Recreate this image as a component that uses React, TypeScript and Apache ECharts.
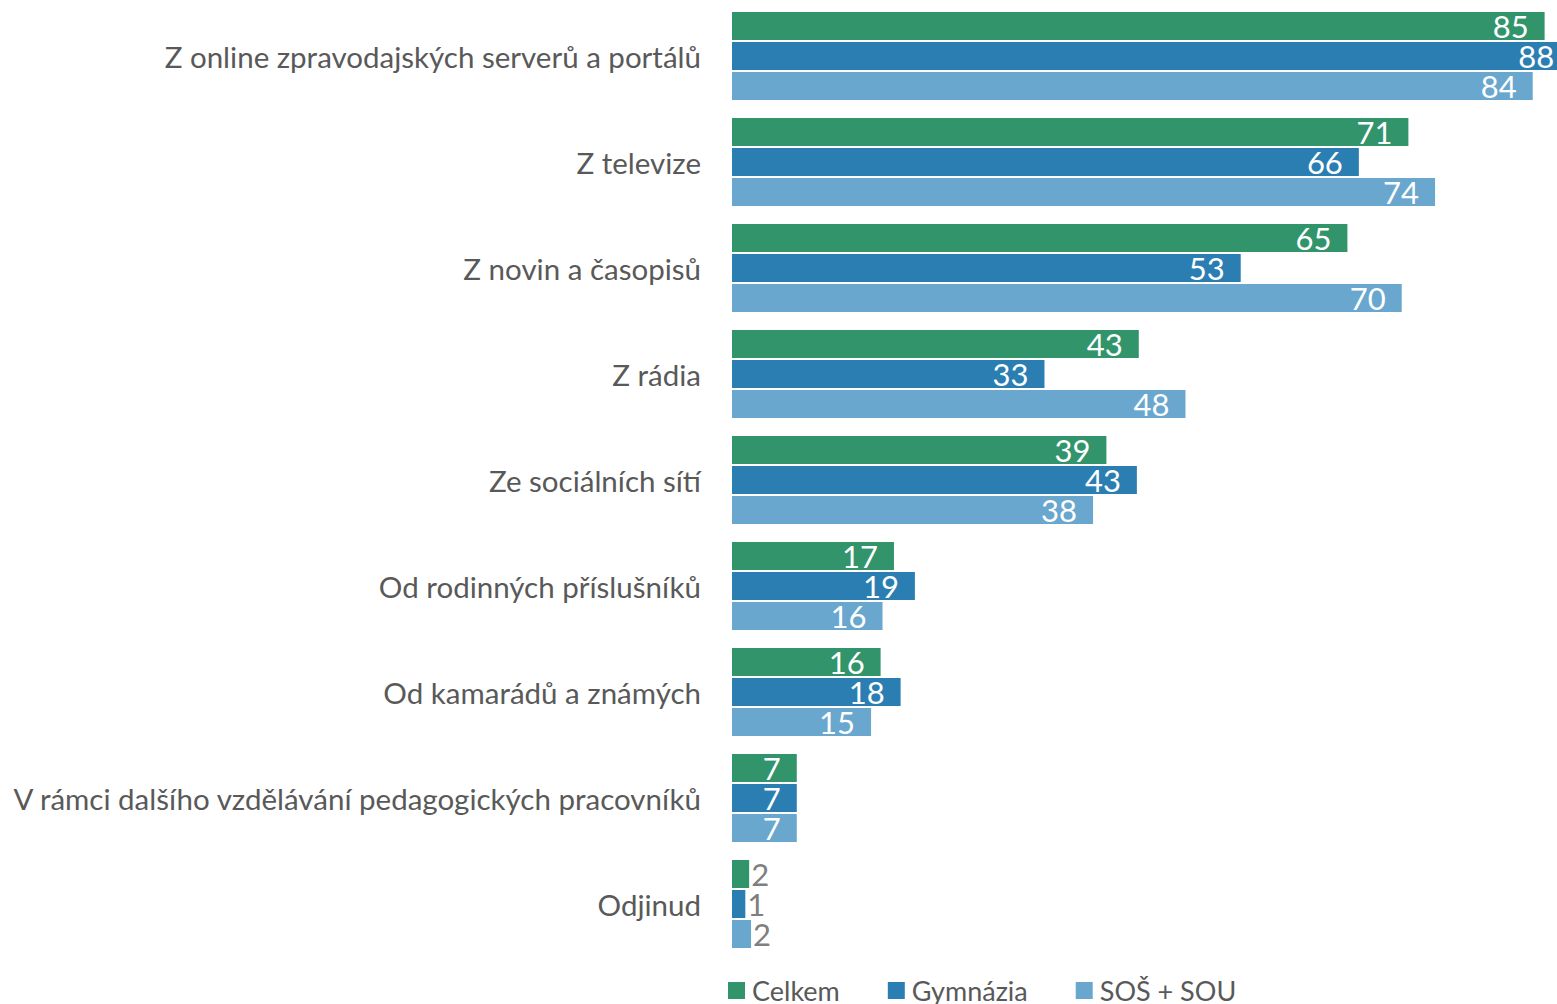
import React, { useEffect, useRef } from "react";
import * as echarts from "echarts";

const categories = [
  "Z online zpravodajských serverů a portálů",
  "Z televize",
  "Z novin a časopisů",
  "Z rádia",
  "Ze sociálních sítí",
  "Od rodinných příslušníků",
  "Od kamarádů a známých",
  "V rámci dalšího vzdělávání pedagogických pracovníků",
  "Odjinud",
];
const seriesNames = ["Celkem", "Gymnázia", "SOŠ + SOU"];
const celkem = [85.3, 71.0, 64.6, 42.7, 39.3, 17.0, 15.6, 6.8, 1.8];
const gymnazia = [88.0, 65.8, 53.4, 32.8, 42.5, 19.2, 17.7, 6.8, 1.4];
const sosSou = [84.05, 73.8, 70.3, 47.6, 37.9, 15.8, 14.6, 6.8, 2.0];
const colors = ["#31946B", "#2A7EB2", "#69A7CE"];

const FONT = "Lato";

function buildData(values: number[]) {
  return values.map((v) =>
    v < 3
      ? {
          value: v,
          label: { position: "right", color: "#7F7F7F", distance: 2 },
        }
      : v
  );
}

export default function App() {
  const ref = useRef<HTMLDivElement>(null);
  useEffect(() => {
    const chart = echarts.init(ref.current!, undefined, { renderer: "svg" });
    const all = [celkem, gymnazia, sosSou];
    chart.setOption({
      animation: false,
      color: colors,
      textStyle: { fontFamily: FONT },
      grid: { left: 732, top: 3, right: 0, height: 954, containLabel: false },
      legend: {
        left: 728,
        top: 977,
        padding: 0,
        itemWidth: 17,
        itemHeight: 17,
        itemGap: 48,
        icon: "rect",
        textStyle: { fontFamily: FONT, fontSize: 27, color: "#595959", padding: [0, 0, 0, 2] },
        data: seriesNames,
      },
      xAxis: {
        type: "value",
        min: 0,
        max: 86.6,
        show: false,
      },
      yAxis: {
        type: "category",
        inverse: true,
        data: categories,
        axisLine: { show: false },
        axisTick: { show: false },
        axisLabel: {
          fontFamily: FONT,
          fontSize: 29.5,
          color: "#595959",
          margin: 31,
          padding: [0, 0, 5, 0],
        },
      },
      series: all.map((vals, i) => ({
        name: seriesNames[i],
        type: "bar",
        clip: false,
        barWidth: 28,
        barGap: "7.2%",
        data: buildData(vals),
        itemStyle: { color: colors[i] },
        label: {
          show: true,
          position: "insideRight",
          distance: 16,
          color: "#FFFFFF",
          fontFamily: FONT,
          fontSize: 31,
          formatter: (p: any) => String(Math.round(p.value)),
        },
      })),
    });
    return () => chart.dispose();
  }, []);
  return (
    <div
      ref={ref}
      style={{ position: "fixed", left: 0, top: 0, width: 1557, height: 1004, background: "#fff", overflow: "hidden" }}
    />
  );
}
